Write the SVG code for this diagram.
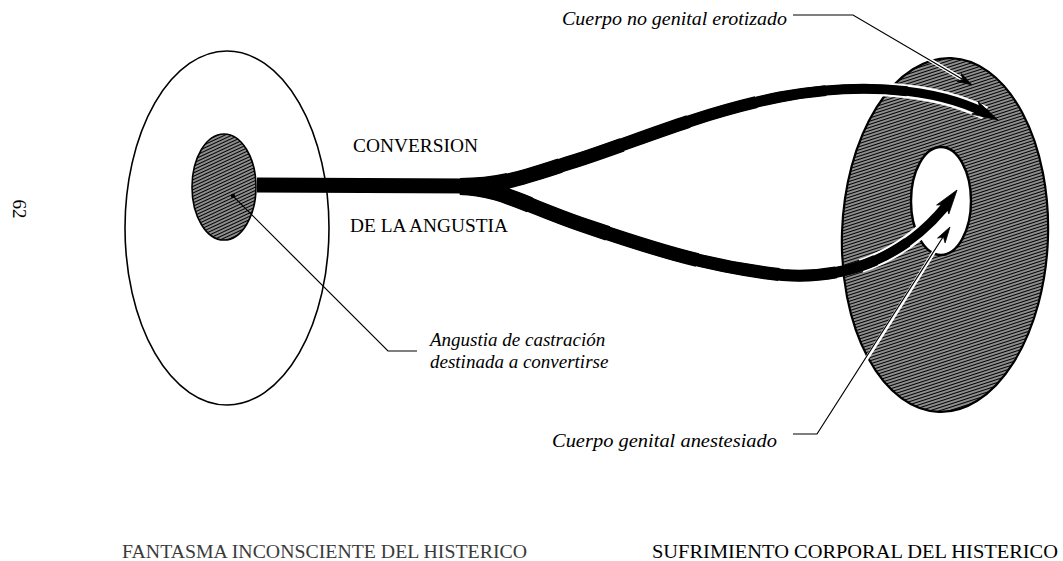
<svg xmlns="http://www.w3.org/2000/svg" width="1063" height="561" viewBox="0 0 1063 561">
<style>
.lbl{font-family:"Liberation Serif",serif;font-style:italic;font-size:19px;fill:#000}
.cap{font-family:"Liberation Serif",serif;font-size:19px;fill:#000}
.flow{fill:none;stroke:#000;stroke-linejoin:round}
.halo{fill:none;stroke:#fff}
.lead{fill:none;stroke:#000;stroke-width:1.2}
.head{fill:#000;stroke:#000;stroke-width:0.8;stroke-linejoin:miter}
.outline{stroke:#000;stroke-width:1.6}
</style>
<defs>
<pattern id="hatch" width="6" height="3" patternUnits="userSpaceOnUse" patternTransform="rotate(-20)">
<rect width="6" height="3" fill="#fff"/>
<line x1="0" y1="1.5" x2="6" y2="1.5" stroke="#000" stroke-width="1.9"/>
</pattern>
<pattern id="hatch2" width="6" height="3" patternUnits="userSpaceOnUse" patternTransform="rotate(-25)">
<rect width="6" height="3" fill="#fff"/>
<line x1="0" y1="1.5" x2="6" y2="1.5" stroke="#000" stroke-width="1.9"/>
</pattern>
</defs>
<rect width="1063" height="561" fill="#fff"/>

<g id="page-number">
<text class="cap" font-size="18" text-anchor="middle" dominant-baseline="central" transform="translate(19,209) rotate(90)">62</text>
</g>

<g id="fantasma">
<ellipse cx="227" cy="228" rx="102" ry="177" fill="none" class="outline"/>
</g>
<g id="angustia-core">
<ellipse cx="224" cy="187" rx="32" ry="53" fill="url(#hatch2)" class="outline"/>
</g>

<g id="cuerpo">
<ellipse cx="945" cy="235" rx="103" ry="177" transform="rotate(2 945 235)" fill="url(#hatch)" stroke="#000" stroke-width="2.2"/>
</g>
<g id="cuerpo-genital">
<ellipse cx="941" cy="201" rx="30" ry="54" fill="#fff" stroke="#000" stroke-width="2.4"/>
</g>

<g id="connectors">
<!-- left leader -->
<path class="lead" d="M233,196 L388,351 L417,351"/>
<circle cx="233" cy="196" r="2.2" fill="#000"/>
<!-- stem -->
<path class="flow" stroke-width="15" d="M257,185 L470,186"/>
<!-- upper branch (tapering) -->
<path class="halo" stroke-width="14" stroke-linecap="butt" pathLength="100" stroke-dasharray="0 78 30 100" d="M460,186 C505,186 530,175 575,161 C640,140 700,113 780,97 C860,82 935,88 985,113"/>
<g class="flow" stroke-linecap="butt">
<path d="M460,186 C505,186 530,175 575,161 C640,140 700,113 780,97 C860,82 935,88 985,113" stroke-width="9" stroke-linecap="round"/>
<path d="M460,186 C505,186 530,175 575,161 C640,140 700,113 780,97 C860,82 935,88 985,113" pathLength="100" stroke-width="10" stroke-dasharray="85 200"/>
<path d="M460,186 C505,186 530,175 575,161 C640,140 700,113 780,97 C860,82 935,88 985,113" pathLength="100" stroke-width="11" stroke-dasharray="70 200"/>
<path d="M460,186 C505,186 530,175 575,161 C640,140 700,113 780,97 C860,82 935,88 985,113" pathLength="100" stroke-width="12" stroke-dasharray="57 200"/>
<path d="M460,186 C505,186 530,175 575,161 C640,140 700,113 780,97 C860,82 935,88 985,113" pathLength="100" stroke-width="13" stroke-dasharray="44 200"/>
<path d="M460,186 C505,186 530,175 575,161 C640,140 700,113 780,97 C860,82 935,88 985,113" pathLength="100" stroke-width="14" stroke-dasharray="31 200"/>
<path d="M460,186 C505,186 530,175 575,161 C640,140 700,113 780,97 C860,82 935,88 985,113" pathLength="100" stroke-width="15" stroke-dasharray="19 200"/>
<path d="M460,186 C505,186 530,175 575,161 C640,140 700,113 780,97 C860,82 935,88 985,113" pathLength="100" stroke-width="16" stroke-dasharray="9 200"/>
</g>
<path class="head" d="M998,120 L971.7,114.1 L980.3,110.7 L978.3,101.7 Z"/>
<!-- lower branch (tapering) -->
<path class="halo" stroke-width="14" stroke-linecap="butt" pathLength="100" stroke-dasharray="0 80 30 100" d="M460,187 C500,188 525,205 580,224 C640,244 700,266 783,275 C850,280 905,255 945,207"/>
<g class="flow" stroke-linecap="butt">
<path d="M460,187 C500,188 525,205 580,224 C640,244 700,266 783,275 C850,280 905,255 945,207" stroke-width="9" stroke-linecap="round"/>
<path d="M460,187 C500,188 525,205 580,224 C640,244 700,266 783,275 C850,280 905,255 945,207" pathLength="100" stroke-width="10" stroke-dasharray="90 200"/>
<path d="M460,187 C500,188 525,205 580,224 C640,244 700,266 783,275 C850,280 905,255 945,207" pathLength="100" stroke-width="11" stroke-dasharray="83 200"/>
<path d="M460,187 C500,188 525,205 580,224 C640,244 700,266 783,275 C850,280 905,255 945,207" pathLength="100" stroke-width="12" stroke-dasharray="75 200"/>
<path d="M460,187 C500,188 525,205 580,224 C640,244 700,266 783,275 C850,280 905,255 945,207" pathLength="100" stroke-width="13" stroke-dasharray="64 200"/>
<path d="M460,187 C500,188 525,205 580,224 C640,244 700,266 783,275 C850,280 905,255 945,207" pathLength="100" stroke-width="14" stroke-dasharray="48 200"/>
<path d="M460,187 C500,188 525,205 580,224 C640,244 700,266 783,275 C850,280 905,255 945,207" pathLength="100" stroke-width="15" stroke-dasharray="30 200"/>
<path d="M460,187 C500,188 525,205 580,224 C640,244 700,266 783,275 C850,280 905,255 945,207" pathLength="100" stroke-width="16" stroke-dasharray="14 200"/>
</g>
<path class="head" d="M957,190 L948.8,214 L946.3,204.5 L936.6,205 Z"/>
<!-- erotizado leader -->
<path class="halo" stroke-width="4" stroke-linecap="round" d="M905,45 L962,79"/>
<path class="lead" d="M793,15 L853,15 L962,79"/>
<path class="head" d="M972,85 L956.8,81.3 L962.5,79.4 L961.4,73.5 Z"/>
<!-- anestesiado leader -->
<path class="halo" stroke-width="4" stroke-linecap="round" d="M845,392 C880,338 915,283 943,237"/>
<path class="lead" d="M793,434 L817,434 C850,383 895,312 943,237"/>
<path class="head" d="M950,227 L945.1,242.9 L943.5,237.1 L937.5,238.1 Z"/>
</g>

<g id="labels">
<text class="cap" x="353" y="152" textLength="125" lengthAdjust="spacingAndGlyphs">CONVERSION</text>
<text class="cap" x="350" y="232" textLength="158" lengthAdjust="spacingAndGlyphs">DE LA ANGUSTIA</text>
<text class="lbl" x="562" y="25" textLength="225" lengthAdjust="spacingAndGlyphs">Cuerpo no genital erotizado</text>
<text class="lbl" x="430" y="346">Angustia de castración</text>
<text class="lbl" x="430" y="368">destinada a convertirse</text>
<text class="lbl" x="552" y="447" textLength="225" lengthAdjust="spacingAndGlyphs">Cuerpo genital anestesiado</text>
<text class="cap" x="122" y="558" style="fill:#3a3a3a" textLength="405" lengthAdjust="spacingAndGlyphs">FANTASMA INCONSCIENTE DEL HISTERICO</text>
<text class="cap" x="652" y="558" textLength="406" lengthAdjust="spacingAndGlyphs">SUFRIMIENTO CORPORAL DEL HISTERICO</text>
</g>
</svg>
